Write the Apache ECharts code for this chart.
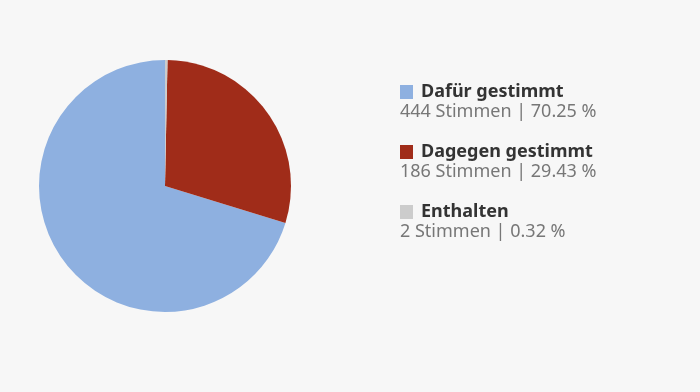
<!DOCTYPE html>
<html>
<head>
<meta charset="utf-8">
<script src="https://cdn.jsdelivr.net/npm/echarts@6/dist/echarts.min.js"></script>
<style>
html,body{margin:0;padding:0;background:#f7f7f7;}
#chart{width:700px;height:392px;}
</style>
</head>
<body>
<div id="chart"></div>
<script>
const categories = ['Dafür gestimmt', 'Dagegen gestimmt', 'Enthalten'];
const votes = [444, 186, 2];
const percents = ['70.25', '29.43', '0.32'];
const colors = ['#8eb0e0', '#a02c19', '#cccccc'];

const chart = echarts.init(document.getElementById('chart'));
const rich = {
  name: { fontFamily: 'Noto Sans', fontWeight: 'bold', fontSize: 18, color: '#333333', lineHeight: 20, padding: [0,0,0,8] },
  val: { fontFamily: 'Noto Sans', fontSize: 18, color: '#777777', lineHeight: 20 }
};
categories.forEach((c, i) => {
  rich['sq' + i] = { width: 13, height: 14, backgroundColor: colors[i], lineHeight: 20 };
});
chart.setOption({
  backgroundColor: '#f7f7f7',
  animation: false,
  legend: {
    orient: 'vertical',
    left: 395,
    top: 83,
    padding: 0,
    itemWidth: 0,
    itemHeight: 0,
    textGap: 0,
    itemGap: 22,
    icon: 'rect',
    selectedMode: false,
    textStyle: { rich: rich },
    formatter: function (name) {
      const i = categories.indexOf(name);
      return '{sq' + i + '|}{name|' + name + '}\n{val|' + votes[i] + ' Stimmen | ' + percents[i] + ' %}';
    }
  },
  series: [{
    type: 'pie',
    center: [165, 186],
    radius: 126,
    startAngle: 90,
    clockwise: false,
    label: { show: false },
    labelLine: { show: false },
    emphasis: { disabled: true },
    itemStyle: { borderWidth: 0 },
    data: categories.map((c, i) => ({ name: c, value: votes[i], itemStyle: { color: colors[i] } }))
  }]
});
</script>
</body>
</html>
